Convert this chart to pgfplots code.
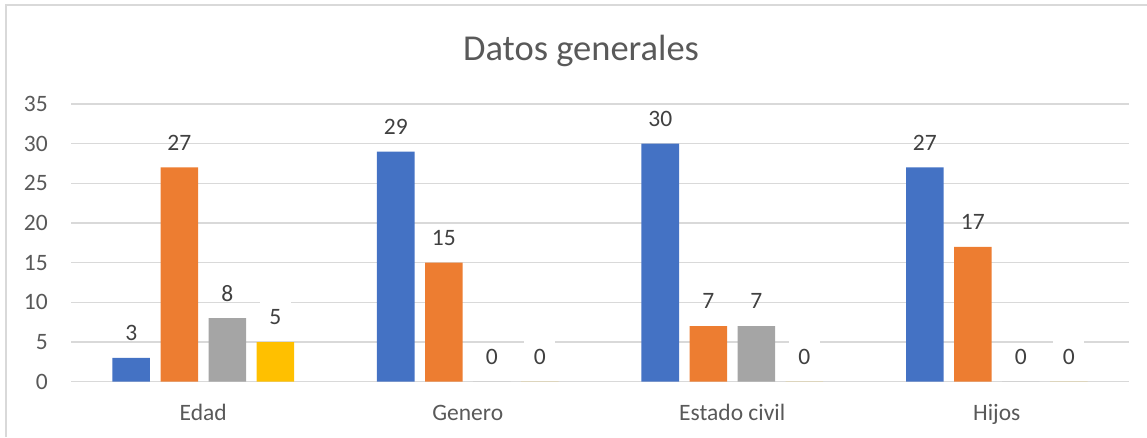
\documentclass[border=0pt]{standalone}
\usepackage{fontspec}
\setmainfont{Carlito}
\usepackage{pgfplots}
\pgfplotsset{compat=1.18}
\definecolor{cblue}{HTML}{4472C4}
\definecolor{corange}{HTML}{ED7D31}
\definecolor{cgray}{HTML}{A5A5A5}
\definecolor{cyellow}{HTML}{FFC000}
\definecolor{gridc}{HTML}{D9D9D9}
\definecolor{textc}{HTML}{595959}
\definecolor{labc}{HTML}{404040}
\begin{document}
\begin{tikzpicture}[x=1pt,y=1pt]
\useasboundingbox (0,0) rectangle (1147,437);
\draw[color=gridc, line width=1.5pt] (6,0) -- (6,432) -- (1147,432);
\node[anchor=base, text=textc, font=\fontsize{36.5}{40}\selectfont, inner sep=0] at (581,376) {Datos generales};
\begin{axis}[
  at={(71pt,55.3pt)}, anchor=south west,
  scale only axis, width=1058pt, height=277.7pt,
  ymin=0, ymax=35, ytick={0,5,...,35},
  xmin=-0.5, xmax=3.5, xtick={0,1,2,3},
  xticklabels={Edad,Genero,Estado civil,Hijos},
  ymajorgrids, grid style={color=gridc, line width=1.3pt},
  axis line style={draw=none},
  major tick length=0,
  /pgf/number format/assume math mode=true,
  ticklabel style={font=\fontsize{23.5}{28}\selectfont, text=textc, inner sep=0},
  yticklabel style={anchor=base east, xshift=-23pt, yshift=-7.5pt},
  xticklabel style={anchor=base, yshift=-38.3pt},
  ybar=10.5pt, bar width=37.5pt,
  nodes near coords,
  every node near coord/.append style={font=\fontsize{23.5}{28}\selectfont, text=labc, anchor=center, yshift=25pt, inner sep=0},
  clip=false,
]
\addplot[fill=cblue, draw=none] coordinates {(0,3) (1,29) (2,30) (3,27)};
\addplot[fill=corange, draw=none] coordinates {(0,27) (1,15) (2,7) (3,17)};
\addplot[fill=cgray, draw=none] coordinates {(0,8) (1,0) (2,7) (3,0)};
\addplot[fill=cyellow, draw=none, every node near coord/.append style={fill=white, minimum width=31pt, minimum height=34pt}] coordinates {(0,5) (1,0) (2,0) (3,0)};
\end{axis}
\end{tikzpicture}
\end{document}
